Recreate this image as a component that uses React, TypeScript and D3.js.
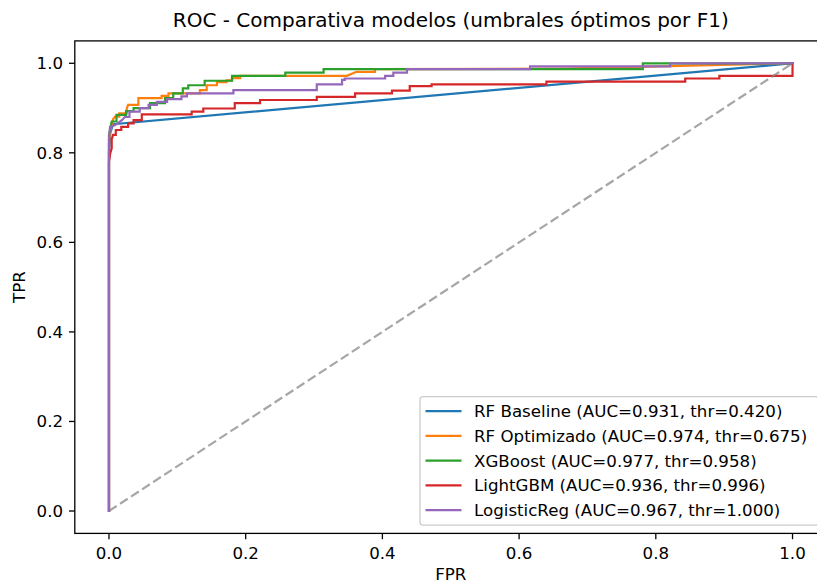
import React from "react";
import * as d3 from "d3";

const W = 817;
const H = 584;

const xTicks = [0.0, 0.2, 0.4, 0.6, 0.8, 1.0];
const yTicks = [0.0, 0.2, 0.4, 0.6, 0.8, 1.0];

const modelNames = ["RF Baseline", "RF Optimizado", "XGBoost", "LightGBM", "LogisticReg"];
const modelAuc = [0.931, 0.974, 0.977, 0.936, 0.967];
const modelThr = [0.42, 0.675, 0.958, 0.996, 1.0];
const modelColors = ["#1f77b4", "#ff7f0e", "#2ca02c", "#d62728", "#9467bd"];

// [FPR, TPR] points
const rfBaselineRoc: [number, number][] = [
  [0, 0], [0, 0.8], [0.002, 0.845], [0.006, 0.864], [1, 1],
];

const rfOptRoc: [number, number][] = [
  [0, 0], [0, 0.82], [0.002, 0.85], [0.004, 0.862], [0.006, 0.875], [0.009, 0.881],
  [0.015, 0.881], [0.015, 0.888], [0.026, 0.888], [0.026, 0.899], [0.028, 0.907],
  [0.043, 0.907], [0.043, 0.922], [0.077, 0.922], [0.077, 0.927], [0.087, 0.927],
  [0.087, 0.933], [0.133, 0.933], [0.133, 0.94], [0.143, 0.94], [0.143, 0.951],
  [0.158, 0.951], [0.158, 0.958], [0.172, 0.958], [0.172, 0.962], [0.18, 0.962],
  [0.18, 0.967], [0.192, 0.967], [0.192, 0.972], [0.348, 0.972], [0.362, 0.981],
  [0.389, 0.981], [0.389, 0.987], [0.665, 0.988], [1, 1],
];

const xgbRoc: [number, number][] = [
  [0, 0], [0, 0.84], [0.002, 0.855], [0.004, 0.87], [0.011, 0.87], [0.011, 0.885],
  [0.025, 0.885], [0.025, 0.893], [0.036, 0.893], [0.036, 0.9], [0.06, 0.9],
  [0.06, 0.911], [0.082, 0.911], [0.082, 0.922], [0.094, 0.922], [0.094, 0.933],
  [0.108, 0.933], [0.108, 0.944], [0.116, 0.944], [0.116, 0.951], [0.14, 0.951],
  [0.14, 0.961], [0.18, 0.961], [0.18, 0.972], [0.258, 0.972], [0.258, 0.979],
  [0.314, 0.979], [0.314, 0.987], [0.781, 0.987], [0.781, 1.0], [1, 1],
];

const lgbmRoc: [number, number][] = [
  [0, 0], [0, 0.78], [0.002, 0.8], [0.004, 0.81], [0.004, 0.83], [0.006, 0.84],
  [0.01, 0.84], [0.01, 0.851], [0.018, 0.851], [0.018, 0.858], [0.028, 0.858],
  [0.028, 0.866], [0.036, 0.866], [0.036, 0.873], [0.048, 0.873], [0.048, 0.886],
  [0.121, 0.886], [0.121, 0.892], [0.138, 0.892], [0.138, 0.899], [0.184, 0.899],
  [0.184, 0.911], [0.221, 0.911], [0.221, 0.918], [0.304, 0.918], [0.304, 0.925],
  [0.36, 0.925], [0.36, 0.933], [0.414, 0.933], [0.414, 0.939], [0.44, 0.939],
  [0.44, 0.949], [0.472, 0.949], [0.472, 0.953], [0.64, 0.953], [0.64, 0.959],
  [0.843, 0.959], [0.843, 0.966], [0.893, 0.966], [0.893, 0.972], [1, 0.972], [1, 1],
];

const logRegRoc: [number, number][] = [
  [0, 0], [0, 0.83], [0.0015, 0.858], [0.009, 0.862], [0.019, 0.873], [0.023, 0.88],
  [0.03, 0.88], [0.03, 0.892], [0.045, 0.892], [0.045, 0.9], [0.058, 0.9],
  [0.058, 0.907], [0.07, 0.907], [0.07, 0.914], [0.085, 0.914], [0.085, 0.92],
  [0.106, 0.92], [0.106, 0.926], [0.114, 0.926], [0.114, 0.933], [0.182, 0.933],
  [0.182, 0.94], [0.304, 0.94], [0.304, 0.953], [0.341, 0.953], [0.341, 0.963],
  [0.345, 0.963], [0.345, 0.966], [0.404, 0.966], [0.404, 0.972], [0.416, 0.972],
  [0.416, 0.979], [0.436, 0.979], [0.436, 0.987], [0.616, 0.987], [0.616, 0.993],
  [0.821, 0.993], [0.821, 1.0], [1, 1],
];

const diagonal: [number, number][] = [[0, 0], [1, 1]];

const curves = [rfBaselineRoc, rfOptRoc, xgbRoc, lgbmRoc, logRegRoc];

const FONT = "'DejaVu Sans', sans-serif";

export default function App() {
  const left = 74.8;
  const right = 826.7;
  const top = 40.9;
  const bottom = 533.4;

  const x = d3.scaleLinear().domain([-0.05, 1.05]).range([left, right]);
  const y = d3.scaleLinear().domain([-0.05, 1.05]).range([bottom, top]);

  const line = d3
    .line<[number, number]>()
    .x((d) => x(d[0]))
    .y((d) => y(d[1]));

  const fmt = d3.format(".1f");
  const fmt3 = d3.format(".3f");

  const legX = 420;
  const legY = 396.7;
  const legW = 398.4;
  const legH = 128.4;
  const rowH = 24.75;
  const row0 = 411.2;

  return (
    <svg
      width={W}
      height={H}
      style={{ position: "absolute", left: 0, top: 0, background: "#fff" }}
      fontFamily={FONT}
    >
      <defs>
        <clipPath id="axclip">
          <rect x={left} y={top} width={right - left} height={bottom - top} />
        </clipPath>
      </defs>
      <rect x={0} y={0} width={W} height={H} fill="#fff" />

      <g clipPath="url(#axclip)">
        {curves.map((c, i) => (
          <path
            key={i}
            d={line(c) || ""}
            fill="none"
            stroke={modelColors[i]}
            strokeWidth={2.2}
            strokeLinejoin="miter"
            strokeLinecap="square"
          />
        ))}
        <path
          d={line(diagonal) || ""}
          fill="none"
          stroke="#808080"
          strokeOpacity={0.7}
          strokeWidth={2.2}
          strokeDasharray="9.2,4"
        />
      </g>

      {/* spines */}
      <rect
        x={left}
        y={top}
        width={right - left}
        height={bottom - top}
        fill="none"
        stroke="#000"
        strokeWidth={1.3}
      />

      {/* x ticks */}
      {xTicks.map((t) => (
        <g key={"x" + t}>
          <line x1={x(t)} x2={x(t)} y1={bottom} y2={bottom + 5.8} stroke="#000" strokeWidth={1.3} />
          <text x={x(t)} y={559} textAnchor="middle" fontSize={16.67} fill="#000">
            {fmt(t)}
          </text>
        </g>
      ))}

      {/* y ticks */}
      {yTicks.map((t) => (
        <g key={"y" + t}>
          <line x1={left - 5.8} x2={left} y1={y(t)} y2={y(t)} stroke="#000" strokeWidth={1.3} />
          <text x={left - 11.7} y={y(t) + 6} textAnchor="end" fontSize={16.67} fill="#000">
            {fmt(t)}
          </text>
        </g>
      ))}

      {/* axis labels */}
      <text x={(left + right) / 2} y={580} textAnchor="middle" fontSize={16.67} fill="#000">
        FPR
      </text>
      <text
        transform={`translate(25, ${(top + bottom) / 2}) rotate(-90)`}
        textAnchor="middle"
        fontSize={16.67}
        fill="#000"
      >
        TPR
      </text>

      {/* title */}
      <text x={(left + right) / 2} y={27} textAnchor="middle" fontSize={20} fill="#000">
        ROC - Comparativa modelos (umbrales óptimos por F1)
      </text>

      {/* legend */}
      <rect
        x={legX}
        y={legY}
        width={legW}
        height={legH}
        rx={3}
        ry={3}
        fill="#fff"
        fillOpacity={0.8}
        stroke="#cccccc"
        strokeWidth={1.3}
      />
      {modelNames.map((name, i) => {
        const cy = row0 + i * rowH;
        return (
          <g key={name}>
            <line x1={425.5} x2={461.5} y1={cy} y2={cy} stroke={modelColors[i]} strokeWidth={2.2} />
            <text x={474} y={cy + 6} fontSize={16.67} fill="#000">
              {`${name} (AUC=${fmt3(modelAuc[i])}, thr=${fmt3(modelThr[i])})`}
            </text>
          </g>
        );
      })}
    </svg>
  );
}
